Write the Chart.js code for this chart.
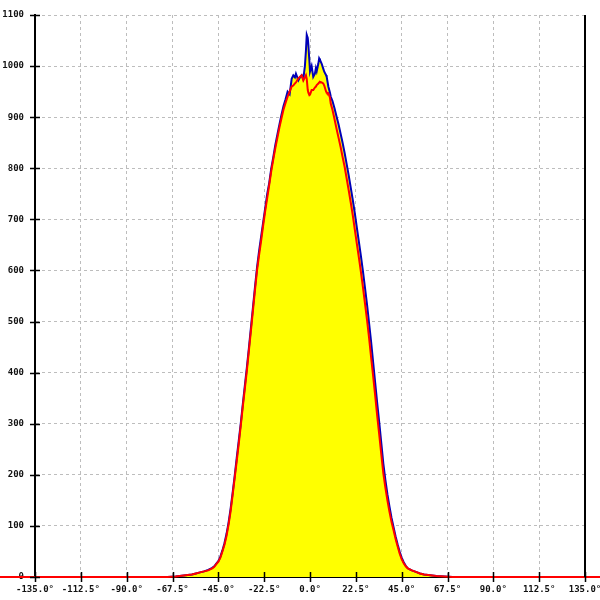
<!DOCTYPE html>
<html>
<head>
<meta charset="utf-8">
<script src="https://cdn.jsdelivr.net/npm/chart.js@4"></script>
<style>
  html, body { margin: 0; padding: 0; background: #fff; }
  #wrap { width: 600px; height: 600px; }
</style>
</head>
<body>
<div id="wrap"><canvas id="chart" width="600" height="600"></canvas></div>
<script>
// angle (degrees) for each sample
const angles = [
  -160, -70, -66, -64, -62, -60, -58, -56, -54, -52, -50, -48, -47, -46, -45, -44, -43, -42, -41, -40,
  -39, -38, -37, -36, -35, -34, -33, -32, -31, -30, -29, -28, -27, -26, -25, -24, -23, -22, -21, -20,
  -19, -18, -17, -16, -15, -14, -13, -12, -11, -10, -9, -8.2, -7.4, -6.9, -5.7, -4.9, -4.1, -3.3, -2.5, -2.0,
  -1.6, -1.1, -0.8, -0.3, 0, 0.8, 1.6, 2.4, 2.9, 3.3, 4.1, 4.5, 4.9, 5.7, 6.5, 7.0, 7.9, 8.2, 9.0, 9.8,
  10.2, 11, 12, 13, 14, 15, 16, 17, 18, 19, 20, 21, 22, 23, 24, 25, 26, 27, 28, 29,
  30, 31, 32, 33, 34, 35, 36, 37, 38, 39, 40, 41, 42, 43, 44, 45, 46, 47, 48, 49,
  50, 52, 54, 56, 58, 60, 62, 64, 66, 68, 70, 150
]

// red curve
const redValues = [
  0, 0, 1, 2, 3, 4, 5, 7, 9, 11, 13, 17, 20, 25, 30, 38, 50, 63, 80, 102,
  128, 160, 193, 226, 260, 296, 333, 368, 404, 443, 482, 522, 562, 600, 630, 658, 688, 716, 742, 768,
  795, 818, 840, 860, 880, 898, 915, 928, 940, 950, 960, 962, 966, 968, 976, 979, 982, 972, 978, 982,
  975, 953, 948, 943, 944, 953, 953, 958, 960, 963, 966, 968, 969, 968, 966, 962, 950, 948, 947, 938,
  926, 915, 897, 878, 860, 842, 822, 803, 780, 757, 733, 708, 680, 652, 625, 597, 567, 535, 503, 468,
  430, 393, 355, 315, 278, 240, 203, 175, 150, 128, 108, 92, 75, 60, 46, 35, 27, 21, 17, 15,
  13, 10, 7, 5, 4, 3, 2, 1.5, 1, 0.5, 0, 0
]

// blue curve
const blueValues = [
  0, 0, 1, 2, 3, 4, 5, 7, 9, 11, 14, 18, 21, 26, 31, 40, 52, 66, 84, 106,
  133, 164, 197, 232, 266, 300, 338, 374, 410, 448, 488, 528, 568, 606, 638, 666, 694, 722, 750, 772,
  800, 822, 846, 866, 886, 905, 922, 935, 950, 945, 975, 982, 978, 985, 972, 978, 982, 975, 1000, 1030,
  1061, 1055, 1041, 1010, 989, 1000, 979, 985, 996, 990, 1005, 1015, 1012, 1005, 995, 989, 982, 979, 960, 948,
  940, 932, 918, 902, 886, 868, 850, 830, 808, 786, 762, 738, 712, 684, 656, 628, 598, 566, 533, 497,
  460, 420, 380, 340, 302, 262, 222, 190, 162, 138, 116, 98, 80, 64, 50, 38, 29, 22, 17, 15,
  13, 10, 7, 5, 4, 3, 2, 1.5, 1, 0.5, 0, 0
]

const xTicks = [-135, -112.5, -90, -67.5, -45, -22.5, 0, 22.5, 45, 67.5, 90, 112.5, 135]
const yTicks = [0, 100, 200, 300, 400, 500, 600, 700, 800, 900, 1000, 1100]

const pts = vals => angles.map((a, i) => ({ x: a, y: vals[i] }))

// short black tick marks across the axes, plus the right frame line
const axisMarks = {
  id: 'axisMarks',
  afterDatasetsDraw(chart) {
    const { ctx, chartArea, scales } = chart
    ctx.save()
    ctx.strokeStyle = '#000'
    ctx.lineWidth = 1.5
    ctx.beginPath()
    yTicks.forEach(v => {
      const y = Math.round(scales.y.getPixelForValue(v)) + 0.5
      ctx.moveTo(chartArea.left - 5, y)
      ctx.lineTo(chartArea.left + 5, y)
    })
    xTicks.forEach(v => {
      const x = Math.round(scales.x.getPixelForValue(v)) + 0.5
      ctx.moveTo(x, chartArea.bottom - 5)
      ctx.lineTo(x, chartArea.bottom + 5)
    })
    ctx.stroke()
    ctx.lineWidth = 2
    ctx.beginPath()
    ctx.moveTo(chartArea.right, chartArea.top)
    ctx.lineTo(chartArea.right, chartArea.bottom)
    ctx.stroke()
    ctx.restore()
  }
}

const tickFont = { family: 'DejaVu Sans Mono', size: 9, weight: 'bold' }

new Chart(document.getElementById('chart'), {
  type: 'line',
  data: {
    datasets: [
      {
        label: 'red',
        data: pts(redValues),
        borderColor: '#ff0000',
        borderWidth: 2,
        pointRadius: 0,
        fill: false,
        clip: false,
        tension: 0
      },
      {
        label: 'blue',
        data: pts(blueValues),
        borderColor: '#0000b8',
        borderWidth: 2,
        pointRadius: 0,
        backgroundColor: '#ffff00',
        fill: 'origin',
        tension: 0
      }
    ]
  },
  options: {
    responsive: false,
    animation: false,
    layout: { padding: { top: 15, right: 15, left: 0, bottom: 0 } },
    plugins: { legend: { display: false }, tooltip: { enabled: false } },
    scales: {
      x: {
        type: 'linear',
        min: -135,
        max: 135,
        afterFit: s => {
          s.height = 23
          s.paddingLeft = 0
          s.paddingRight = 0
        },
        afterBuildTicks: s => { s.ticks = xTicks.map(v => ({ value: v })) },
        ticks: {
          font: tickFont,
          color: '#111',
          padding: 7,
          maxRotation: 0,
          autoSkip: false,
          callback: v => v.toFixed(1) + '°'
        },
        grid: { color: '#bdbdbd', lineWidth: 1, drawTicks: false },
        border: { color: '#000', width: 1, dash: [3, 3] }
      },
      y: {
        min: 0,
        max: 1100,
        afterFit: s => {
          s.width = 35
          s.paddingTop = 0
          s.paddingBottom = 0
        },
        afterBuildTicks: s => { s.ticks = yTicks.map(v => ({ value: v })) },
        ticks: {
          font: tickFont,
          color: '#111',
          padding: 11,
          autoSkip: false,
          callback: v => String(v)
        },
        grid: { color: '#bdbdbd', lineWidth: 1, drawTicks: false },
        border: { color: '#000', width: 2, dash: [3, 3] }
      }
    }
  },
  plugins: [axisMarks]
})
</script>
</body>
</html>
